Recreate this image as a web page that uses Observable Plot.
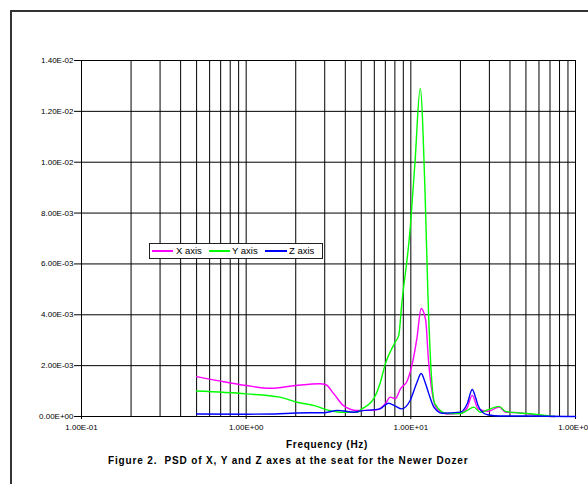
<!DOCTYPE html>
<html>
<head>
<meta charset="utf-8">
<script src="https://cdn.jsdelivr.net/npm/d3@7"></script>
<script src="https://cdn.jsdelivr.net/npm/@observablehq/plot@0.6"></script>
<style>
  html, body { margin: 0; padding: 0; background: #fff; overflow: hidden; width: 588px; height: 484px; }
  #wrap { position: relative; width: 588px; height: 484px; overflow: hidden; font-family: "Liberation Sans", Arial, sans-serif; }
  #frame { position: absolute; left: 10px; top: 10px; width: 700px; height: 600px; border: 2px solid #333; box-sizing: border-box; }
  #chart { position: absolute; left: 0; top: 0; }
  .txt { position: absolute; font-weight: bold; color: #000; white-space: nowrap; line-height: 12px; }
  #xtitle { left: 286px; top: 439px; font-size: 10px; letter-spacing: 0.7px; }
  #caption { left: 108px; top: 455px; font-size: 10px; letter-spacing: 0.85px; }
  #legend { position: absolute; left: 149px; top: 243px; width: 174px; height: 16px; border: 1px solid #222; background: #fff; box-sizing: border-box; }
  .lg-line { position: absolute; top: 6px; height: 1.6px; }
  .lg-text { position: absolute; top: 1px; font-size: 9.5px; line-height: 12px; color: #000; }
</style>
</head>
<body>
<div id="wrap">
  <div id="frame"></div>
  <div id="chart"></div>
  <div id="xtitle" class="txt">Frequency (Hz)</div>
  <div id="caption" class="txt">Figure 2.&nbsp; PSD of X, Y and Z axes at the seat for the Newer Dozer</div>
  <div id="legend"></div>
</div>
<script>
// ---- data ----
const seriesNames = ["X axis", "Y axis", "Z axis"];
const seriesColors = ["#ff00ff", "#00ff00", "#0000ff"];

const xFreq = [0.5, 0.7, 1.0, 1.4, 2.0, 2.8, 3.05, 3.4, 3.9, 4.7, 5.4, 6.2, 7.0, 7.5, 8.05, 8.65, 9.5, 10.2, 10.9, 11.55, 12.3, 12.8, 13.5, 14.4, 16.6, 20, 22, 23.6, 25.6, 29.3, 34.4, 37.6, 45.6, 55, 68, 75];
const xPsd  = [0.00157, 0.00139, 0.00122, 0.00111, 0.00122, 0.00129, 0.00125, 0.00090, 0.00043, 0.00024, 0.00024, 0.00026, 0.00050, 0.00076, 0.00070, 0.00109, 0.00140, 0.00207, 0.00310, 0.00425, 0.00380, 0.00220, 0.00090, 0.00030, 0.00010, 0.00013, 0.00035, 0.00083, 0.00030, 0.00020, 0.00037, 0.00017, 0.00015, 0.00007, 0.00001, 0];

const yFreq = [0.5, 1.0, 1.6, 2.04, 2.6, 3.1, 3.75, 4.7, 5.0, 5.95, 6.5, 7.0, 8.0, 8.45, 8.8, 9.85, 10.6, 11.4, 12.2, 12.7, 13.4, 14.0, 16.5, 20, 22, 24.1, 26.4, 29.3, 34.4, 37.6, 45.6, 55, 71.5, 75];
const yPsd  = [0.00100, 0.00089, 0.00076, 0.00056, 0.00043, 0.00026, 0.00017, 0.00017, 0.00028, 0.00070, 0.00130, 0.00207, 0.00290, 0.00320, 0.00440, 0.00720, 0.01000, 0.01290, 0.00880, 0.00480, 0.00140, 0.00050, 0.00012, 0.00012, 0.00024, 0.00037, 0.00017, 0.00026, 0.00040, 0.00020, 0.00014, 0.00010, 0.00001, 0];

const zFreq = [0.5, 1.0, 1.5, 2.0, 3.0, 3.6, 4.5, 5.0, 6.5, 7.3, 8.0, 8.8, 9.9, 10.9, 11.55, 12.2, 12.85, 13.8, 15.5, 20, 22, 23.6, 24.7, 25.6, 27.5, 29.3, 35, 50, 100];
const zPsd  = [0.00010, 0.00009, 0.00010, 0.00014, 0.00015, 0.00024, 0.00017, 0.00022, 0.00030, 0.00052, 0.00042, 0.00030, 0.00063, 0.00135, 0.00169, 0.00135, 0.00090, 0.00037, 0.00013, 0.00017, 0.00050, 0.00106, 0.00076, 0.00043, 0.00015, 0.00007, 0.00002, 0.00002, 0];

const xTicks = [0.1, 1, 10, 100];
const yTicks = [0, 0.002, 0.004, 0.006, 0.008, 0.010, 0.012, 0.014];
const xGrid = [0.1,0.2,0.3,0.4,0.5,0.6,0.7,0.8,0.9,1,2,3,4,5,6,7,8,9,10,20,30,40,50,60,70,80,90,100];

// ---- build table ----
const rows = [];
[[xFreq, xPsd], [yFreq, yPsd], [zFreq, zPsd]].forEach(([f, v], i) => {
  f.forEach((fr, j) => rows.push({series: seriesNames[i], f: fr, v: v[j]}));
});

function sci(d) {
  const [m, e] = d.toExponential(2).split("e");
  const sign = e[0] === "-" ? "-" : "+";
  const digits = e.replace(/^[+-]/, "").padStart(2, "0");
  return m + "E" + sign + digits;
}

const chart = Plot.plot({
  width: 588,
  height: 484,
  marginLeft: 81,
  marginRight: 13,
  marginTop: 60,
  marginBottom: 68,
  style: {fontFamily: "'Liberation Sans', Arial, sans-serif", fontSize: "8px", color: "#000", background: "transparent", overflow: "visible"},
  x: {type: "log", domain: [0.1, 100], ticks: xTicks, tickFormat: sci, tickSize: 3, tickPadding: 5, label: null},
  y: {domain: [0, 0.014], ticks: yTicks, tickFormat: sci, tickSize: 7, tickPadding: 1, label: null},
  color: {domain: seriesNames, range: seriesColors},
  marks: [
    Plot.ruleX(xGrid, {stroke: "#000", strokeWidth: 1}),
    Plot.ruleY(yTicks, {stroke: "#000", strokeWidth: 1}),
    Plot.line(rows, {x: "f", y: "v", z: "series", stroke: "series", strokeWidth: 1.4, curve: "monotone-x"})
  ]
});
document.getElementById("chart").appendChild(chart);

// ---- legend ----
const legend = document.getElementById("legend");
const lgLine = [[2, 23], [59, 80], [115, 137]];
const lgText = [26, 82, 139];
seriesNames.forEach((name, i) => {
  const l = document.createElement("div");
  l.className = "lg-line";
  l.style.left = lgLine[i][0] + "px";
  l.style.width = (lgLine[i][1] - lgLine[i][0]) + "px";
  l.style.background = seriesColors[i];
  legend.appendChild(l);
  const t = document.createElement("div");
  t.className = "lg-text";
  t.style.left = lgText[i] + "px";
  t.textContent = name;
  legend.appendChild(t);
});
</script>
</body>
</html>
